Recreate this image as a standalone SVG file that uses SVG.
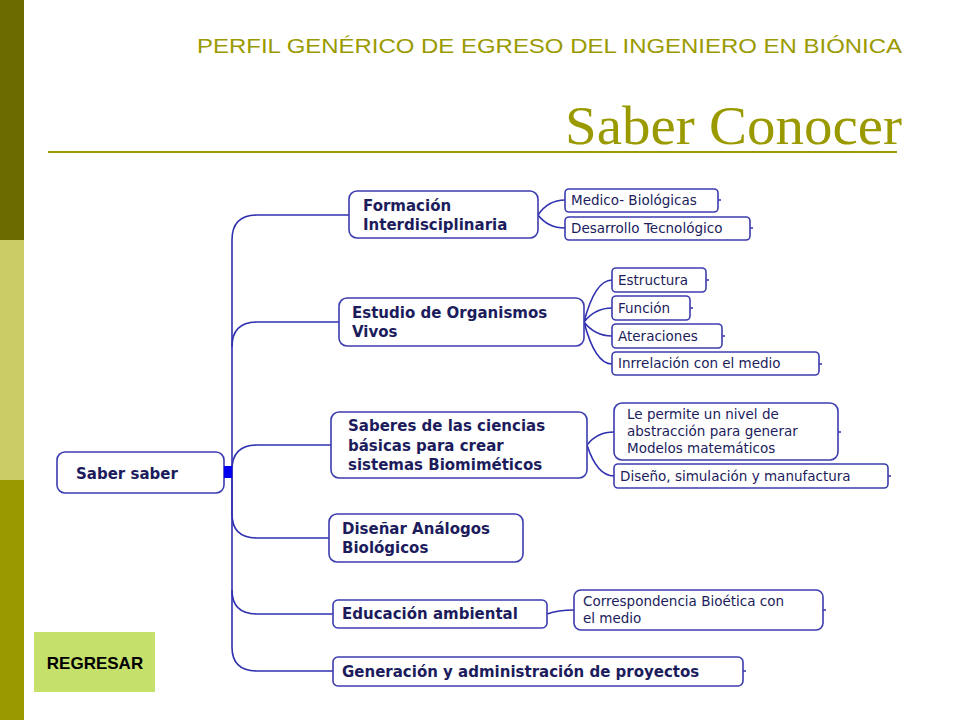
<svg xmlns="http://www.w3.org/2000/svg" width="960" height="720" viewBox="0 0 960 720">
<style>
.n{fill:#fff;stroke:#3c3cae;stroke-width:1.6}
.t{font-family:"DejaVu Sans",sans-serif;font-weight:bold;fill:#1c1c5c;font-size:15px}
.s{font-family:"DejaVu Sans",sans-serif;fill:#1c1c5c;font-size:13.5px}
.c{fill:none;stroke:#3030b0;stroke-width:1.6}
</style>
<rect width="960" height="720" fill="#fff"/>
<rect x="0" y="0" width="24" height="240" fill="#6b6b00"/>
<rect x="0" y="240" width="24" height="240" fill="#cccc66"/>
<rect x="0" y="480" width="24" height="240" fill="#999900"/>
<text x="197" y="53" textLength="705" lengthAdjust="spacingAndGlyphs" font-family="Liberation Sans,sans-serif" font-size="20" fill="#9a9a00">PERFIL GENÉRICO DE EGRESO DEL INGENIERO EN BIÓNICA</text>
<text x="565" y="144" textLength="337" lengthAdjust="spacingAndGlyphs" font-family="Liberation Serif,serif" font-size="54" fill="#9a9a00">Saber Conocer</text>
<line x1="48" y1="152" x2="897" y2="152" stroke="#9a9a00" stroke-width="2"/>
<g id="connectors">
<path class="c" d="M232,647 V240 Q232,215 257,215 H349"/>
<path class="c" d="M232,347 Q232,322 257,322 H339"/>
<path class="c" d="M232,470 Q232,445 257,445 H331"/>
<path class="c" d="M232,470 V514 Q232,538 257,538 H329"/>
<path class="c" d="M232,590 Q232,614 257,614 H333"/>
<path class="c" d="M232,647 Q232,671 257,671 H333"/>
<path class="c" d="M538,215 Q548,200 565,200 M538,215 Q548,228 565,228"/>
<path class="c" d="M584,322 Q595,280 612,280 M584,322 Q595,308 612,308 M584,322 Q595,336 612,336 M584,322 Q595,364 612,364"/>
<path class="c" d="M587,445 Q597,432 614,432 M587,445 Q597,476 614,476"/>
<path class="c" d="M547,614 Q558,610 574,610"/>
<path class="c" d="M718,200 h3 M750,228 h3 M706,280 h3 M690,308 h3 M722,336 h3 M819,364 h3 M838,432 h3 M888,476 h3 M823,610 h3 M743,671 h3"/>
</g>
<g id="saber"><rect class="n" x="57" y="452" width="167" height="41" rx="8"/><text class="t" x="76" y="479" font-size="19">Saber saber</text><rect x="224" y="466" width="8" height="12" fill="#0000ee"/></g>
<g id="formacion"><rect class="n" x="349" y="191" width="189" height="47" rx="8"/><text class="t" x="363" y="211">Formación</text><text class="t" x="363" y="230">Interdisciplinaria</text></g>
<g id="medico"><rect class="n" x="565" y="189" width="153" height="23" rx="4"/><text class="s" x="571" y="205">Medico- Biológicas</text></g>
<g id="desarrollo"><rect class="n" x="565" y="217" width="185" height="23" rx="4"/><text class="s" x="571" y="233">Desarrollo Tecnológico</text></g>
<g id="estudio"><rect class="n" x="339" y="298" width="245" height="48" rx="8"/><text class="t" x="352" y="318">Estudio de Organismos</text><text class="t" x="352" y="337">Vivos</text></g>
<g id="estructura"><rect class="n" x="612" y="268" width="94" height="24" rx="4"/><text class="s" x="618" y="285">Estructura</text></g>
<g id="funcion"><rect class="n" x="612" y="296" width="78" height="24" rx="4"/><text class="s" x="618" y="313">Función</text></g>
<g id="ateraciones"><rect class="n" x="612" y="324" width="110" height="24" rx="4"/><text class="s" x="618" y="341">Ateraciones</text></g>
<g id="inrrelacion"><rect class="n" x="612" y="352" width="207" height="23" rx="4"/><text class="s" x="618" y="368">Inrrelación con el medio</text></g>
<g id="saberes"><rect class="n" x="331" y="412" width="256" height="66" rx="8"/><text class="t" x="348" y="431">Saberes de las ciencias</text><text class="t" x="348" y="451">básicas para crear</text><text class="t" x="348" y="470">sistemas Biomiméticos</text></g>
<g id="lepermite"><rect class="n" x="614" y="403" width="224" height="57" rx="8"/><text class="s" x="627" y="419">Le permite un nivel de</text><text class="s" x="627" y="436">abstracción para generar</text><text class="s" x="627" y="453">Modelos matemáticos</text></g>
<g id="diseno"><rect class="n" x="614" y="464" width="274" height="24" rx="4"/><text class="s" x="620" y="481">Diseño, simulación y manufactura</text></g>
<g id="disenar"><rect class="n" x="329" y="514" width="194" height="48" rx="8"/><text class="t" x="342" y="534">Diseñar Análogos</text><text class="t" x="342" y="553">Biológicos</text></g>
<g id="educacion"><rect class="n" x="333" y="600" width="214" height="28" rx="5"/><text class="t" x="342" y="619">Educación ambiental</text></g>
<g id="correspondencia"><rect class="n" x="574" y="590" width="249" height="40" rx="7"/><text class="s" x="583" y="606">Correspondencia Bioética con</text><text class="s" x="583" y="623">el medio</text></g>
<g id="generacion"><rect class="n" x="333" y="657" width="410" height="29" rx="5"/><text class="t" x="342" y="677">Generación y administración de proyectos</text></g>
<g id="regresar"><rect x="34" y="632" width="121" height="60" fill="#c5e06b"/><text x="95" y="669" text-anchor="middle" font-family="Liberation Sans,sans-serif" font-weight="bold" font-size="17" fill="#000">REGRESAR</text></g>
</svg>
